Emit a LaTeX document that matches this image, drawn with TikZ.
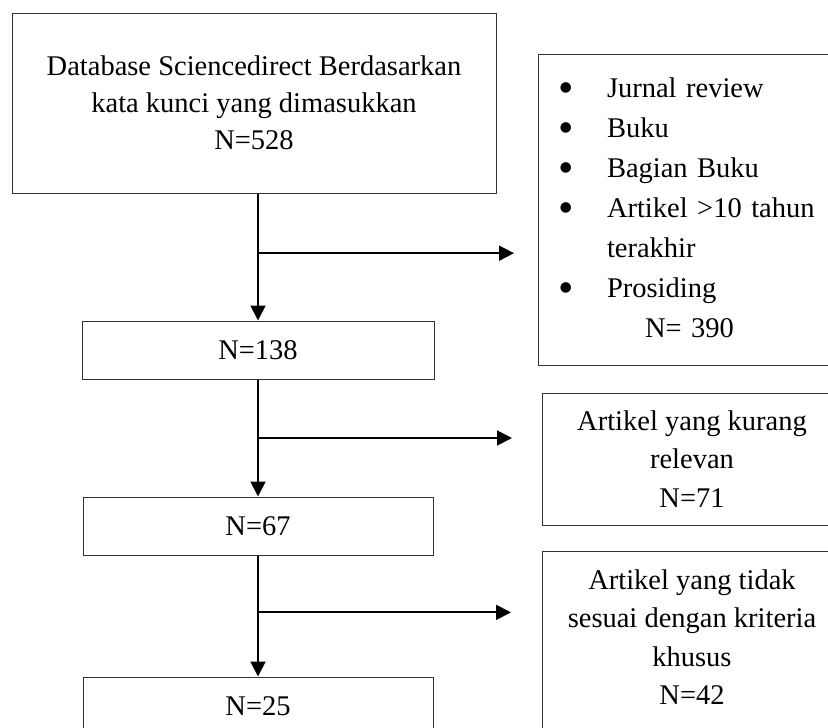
\documentclass[tikz,border=0pt]{standalone}
\usepackage{fontspec}
\setmainfont{Liberation Serif}
\usetikzlibrary{arrows.meta,calc}

\newcommand{\blt}{\raisebox{-4.5pt}{\fontsize{44}{40}\selectfont\textbullet}}

\begin{document}
\begin{tikzpicture}[
  x=1pt,y=-1pt,
  line width=1pt,
  box/.style={draw=black!80,align=center,inner sep=0pt,
    font=\fontsize{28.5}{37}\selectfont},
  flow/.style={line width=1.9pt,-{Triangle[length=15pt,width=15pt]}}
]
  \useasboundingbox (0,0) rectangle (828,728);
  \clip (0,0) rectangle (828,728);

  % Main column of the selection.
  \node[box,minimum width=484pt,minimum height=180pt] (db) at (254,103)
    {Database Sciencedirect Berdasarkan\\kata kunci yang dimasukkan\\N=528};
  \node[box,minimum width=352pt,minimum height=58pt] (n138) at (258,350) {N=138};
  \node[box,minimum width=350pt,minimum height=58pt] (n67) at (258,526) {N=67};
  \node[box,minimum width=350pt,minimum height=58pt] (n25) at (258,706) {N=25};

  % Excluded records, running off the right edge.
  \node[box,minimum width=308pt,minimum height=311pt,text width=268pt,
    inner xsep=20pt,align=left,font=\fontsize{28.5}{40}\selectfont] (ex1) at (692,209.5)
    {\begin{tabular}{@{}p{49pt}@{}l@{}}
      \blt & Jurnal review\\
      \blt & Buku\\
      \blt & Bagian Buku\\
      \blt & Artikel >10 tahun\\
           & terakhir\\
      \blt & Prosiding\\
           & \hspace{38pt}N= 390
    \end{tabular}};
  \node[box,minimum width=300pt,minimum height=132pt,
    font=\fontsize{28.5}{38.5}\selectfont] (ex2) at (692,459)
    {Artikel yang kurang\\relevan\\N=71};
  \node[box,minimum width=300pt,anchor=north,inner ysep=18pt,text depth=40pt,
    font=\fontsize{28.5}{38.5}\selectfont] (ex3) at (692,551)
    {Artikel yang tidak\\sesuai dengan kriteria\\khusus\\N=42};

  % Downward flow.
  \draw[flow] (db.south -| n138.north) -- (n138.north);
  \draw[flow] (n138.south) -- (n67.north);
  \draw[flow] (n67.south) -- (n25.north);

  % Side branches to the excluded records.
  \coordinate (b1) at ($(db.south -| n138.north)!0.47!(n138.north)$);
  \coordinate (b2) at ($(n138.south)!0.5!(n67.north)$);
  \coordinate (b3) at ($(n67.south)!0.47!(n25.north)$);
  \coordinate (t1) at ([xshift=256pt]b1);
  \coordinate (t2) at ([xshift=254pt]b2);
  \coordinate (t3) at ([xshift=253pt]b3);
  \draw[flow] (b1) -- (t1);
  \draw[flow] (b2) -- (t2);
  \draw[flow] (b3) -- (t3);
\end{tikzpicture}
\end{document}
